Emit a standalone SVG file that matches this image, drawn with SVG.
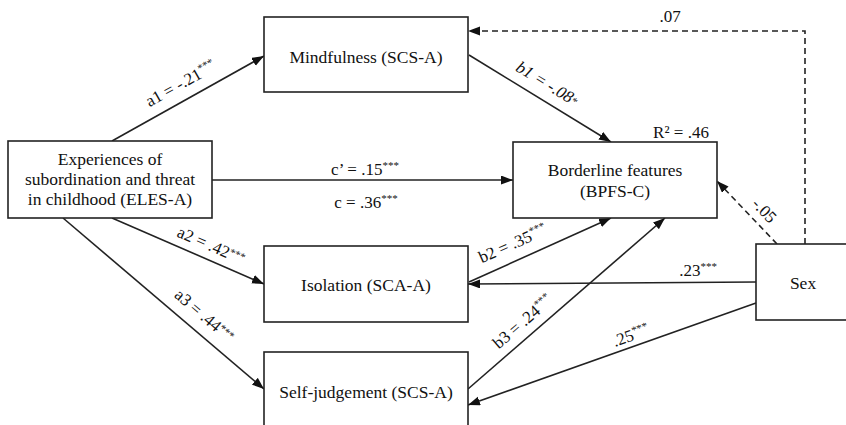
<svg xmlns="http://www.w3.org/2000/svg" width="846" height="425" viewBox="0 0 846 425">
<style>
.box{fill:#fff;stroke:#222;stroke-width:1.6}
.t{font-family:"Liberation Serif","Times New Roman",serif;font-size:17.5px;fill:#111;text-anchor:middle}
.l{font-family:"Liberation Serif","Times New Roman",serif;font-size:17px;fill:#111;text-anchor:middle}
.sup{font-size:11px}
.e{fill:none;stroke:#222;stroke-width:1.6}
.d{stroke-dasharray:6,4}
</style>
<defs>
<marker id="ah" markerUnits="userSpaceOnUse" markerWidth="13" markerHeight="10" refX="12" refY="4.5" orient="auto">
<path d="M0,0 L12,4.5 L0,9 z" fill="#111"/>
</marker>
</defs>
<rect width="846" height="425" fill="#fff"/>
<g id="connectors">
<path class="e" d="M112,141 L264,56" marker-end="url(#ah)"/>
<path class="e" d="M212,180 L513,180" marker-end="url(#ah)"/>
<path class="e" d="M469,55 L611,142" marker-end="url(#ah)"/>
<path class="e" d="M112,218 L264,284" marker-end="url(#ah)"/>
<path class="e" d="M63,218 L264,389" marker-end="url(#ah)"/>
<path class="e" d="M469,282 L611,218" marker-end="url(#ah)"/>
<path class="e" d="M468,389 L665,218" marker-end="url(#ah)"/>
<path class="e" d="M756,282 L468,284" marker-end="url(#ah)"/>
<path class="e" d="M756,303 L468,405" marker-end="url(#ah)"/>
<path class="e d" d="M805,244 L805,31 L468,31" marker-end="url(#ah)"/>
<path class="e d" d="M777,244 L717,181" marker-end="url(#ah)"/>
<text class="l" transform="translate(181,84) rotate(-29.2)" y="5">a1 = -.21<tspan class="sup" dy="-6">***</tspan></text>
<text class="l" x="365" y="175">c’ = .15<tspan class="sup" dy="-6">***</tspan></text>
<text class="l" x="366" y="208">c = .36<tspan class="sup" dy="-6">***</tspan></text>
<text class="l" transform="translate(547,84) rotate(31.5)" y="5" font-style="italic">b1 = -.08<tspan class="sup" dy="-1">*</tspan></text>
<text class="l" transform="translate(211,246) rotate(23.5)" y="5">a2 = .42<tspan class="sup" dy="-4">***</tspan></text>
<text class="l" transform="translate(204,316) rotate(40.4)" y="5">a3 = .44<tspan class="sup" dy="-4">***</tspan></text>
<text class="l" transform="translate(513,244) rotate(-23.9)" y="5">b2 = .35<tspan class="sup" dy="-6">***</tspan></text>
<text class="l" transform="translate(523,322) rotate(-40.8)" y="5">b3 = .24<tspan class="sup" dy="-6">***</tspan></text>
<text class="l" x="698" y="276">.23<tspan class="sup" dy="-6">***</tspan></text>
<text class="l" transform="translate(631,336) rotate(-19.5)" y="5">.25<tspan class="sup" dy="-6">***</tspan></text>
<text class="l" x="670" y="22">.07</text>
<text class="l" transform="translate(764,211) rotate(46)" y="5">-.05</text>
<text class="l" x="681" y="138">R² = .46</text>
</g>
<g id="node-eles">
<rect class="box" x="8" y="141" width="204" height="77"/>
<text class="t" x="110" y="165">Experiences of</text>
<text class="t" x="110" y="185">subordination and threat</text>
<text class="t" x="110" y="205">in childhood (ELES-A)</text>
</g>
<g id="node-mindfulness">
<rect class="box" x="264" y="17" width="204" height="75"/>
<text class="t" x="366" y="63">Mindfulness (SCS-A)</text>
</g>
<g id="node-borderline">
<rect class="box" x="513" y="142" width="204" height="76"/>
<text class="t" x="615" y="176">Borderline features</text>
<text class="t" x="615" y="197">(BPFS-C)</text>
</g>
<g id="node-isolation">
<rect class="box" x="264" y="246" width="204" height="76"/>
<text class="t" x="366" y="291">Isolation (SCA-A)</text>
</g>
<g id="node-selfjudgement">
<rect class="box" x="264" y="352" width="204" height="80"/>
<text class="t" x="366" y="398">Self-judgement (SCS-A)</text>
</g>
<g id="node-sex">
<rect class="box" x="756" y="244" width="96" height="76"/>
<text class="t" x="803" y="289">Sex</text>
</g>
</svg>
